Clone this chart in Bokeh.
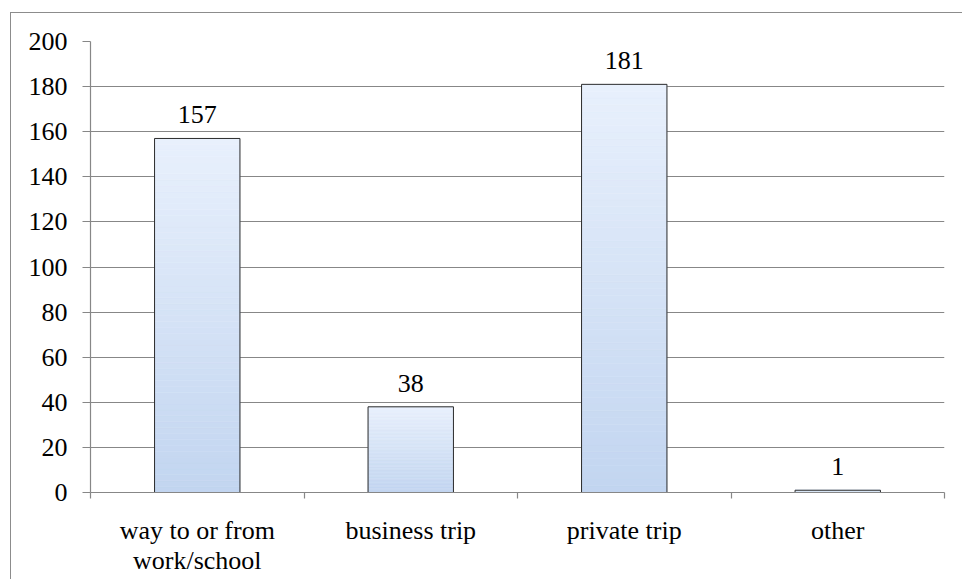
from bokeh.plotting import figure
from bokeh.models import FixedTicker, ColumnDataSource, Range1d
from bokeh.embed import file_html
from bokeh.resources import INLINE
from bokeh.core.properties import value

categories = ["way to or from\nwork/school", "business trip", "private trip", "other"]
counts = [157, 38, 181, 1]
y_ticks = [0, 20, 40, 60, 80, 100, 120, 140, 160, 180, 200]

FONT = "'Times New Roman', 'Liberation Serif', serif"
GRID = "#878787"

p = figure(width=952, height=567, output_backend="svg", toolbar_location=None,
           x_range=Range1d(0, len(categories)), y_range=Range1d(0, 200),
           min_border_left=79, min_border_right=19, min_border_top=28, min_border_bottom=88)
p.margin = (12, 0, 0, 10)
p.styles = {"border-top": "1.5px solid #8c8c8c", "border-left": "1.5px solid #8c8c8c"}
p.outline_line_color = None
p.background_fill_color = "white"
p.border_fill_color = "white"

# gradient bars built from slices of each value
N = 60
top_c = (0xE8, 0xF0, 0xFC)
bot_c = (0xC2, 0xD5, 0xF0)
xs, bots, tops, cols = [], [], [], []
for i, v in enumerate(counts):
    for k in range(N):
        t = (k + 0.5) / N
        c = tuple(int(round(bot_c[j] + (top_c[j] - bot_c[j]) * t)) for j in range(3))
        xs.append(i + 0.5)
        bots.append(v * k / N)
        tops.append(v * (k + 1) / N)
        cols.append("#%02x%02x%02x" % c)
p.vbar(x=xs, bottom=bots, top=tops, width=0.4, fill_color=cols, line_color=cols, line_width=0.5)

src = ColumnDataSource(dict(x=[i + 0.5 for i in range(len(counts))], top=counts,
                            lab=[str(c) for c in counts]))
p.vbar(x="x", top="top", bottom=0, width=0.4, source=src, fill_color=None,
       line_color="#2b2b2b", line_width=1)
p.text(x="x", y="top", text="lab", source=src, text_align="center", text_baseline="bottom",
       y_offset=-15, text_font=value(FONT), text_font_size="26px", text_color="black")

# axes
p.xgrid.grid_line_color = None
p.ygrid.grid_line_color = GRID
p.ygrid.grid_line_width = 1.2
p.yaxis.ticker = FixedTicker(ticks=y_ticks)
p.yaxis.axis_line_color = GRID
p.yaxis.axis_line_width = 1.2
p.yaxis.major_tick_line_color = GRID
p.yaxis.major_tick_in = 0
p.yaxis.major_tick_out = 8
p.yaxis.minor_tick_line_color = None
p.yaxis.major_label_standoff = 15
p.yaxis.major_label_text_font = FONT
p.yaxis.major_label_text_font_size = "26px"
p.yaxis.major_label_text_color = "black"

p.xaxis.ticker = FixedTicker(ticks=[i + 0.5 for i in range(len(categories))],
                             minor_ticks=list(range(len(categories) + 1)))
p.xaxis.major_label_overrides = {i + 0.5: c for i, c in enumerate(categories)}
p.xaxis.axis_line_color = GRID
p.xaxis.axis_line_width = 1.2
p.xaxis.major_tick_line_color = None
p.xaxis.major_tick_in = 0
p.xaxis.major_tick_out = 0
p.xaxis.minor_tick_line_color = GRID
p.xaxis.minor_tick_line_width = 1.2
p.xaxis.minor_tick_in = 0
p.xaxis.minor_tick_out = 6
p.xaxis.major_label_standoff = 17
p.xaxis.major_label_text_font = FONT
p.xaxis.major_label_text_font_size = "26px"
p.xaxis.major_label_text_color = "black"
p.xaxis.major_label_text_line_height = 1.05

open("out.html", "w").write(file_html(p, INLINE))
